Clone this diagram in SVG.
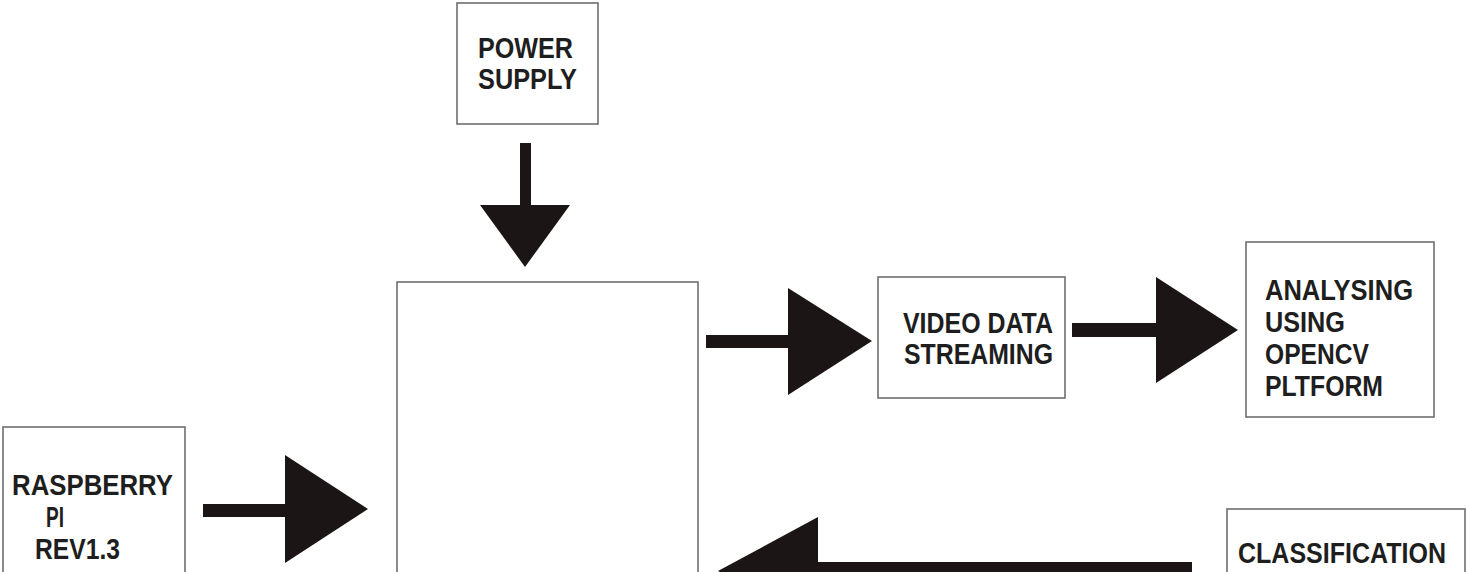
<svg xmlns="http://www.w3.org/2000/svg" width="1467" height="572" viewBox="0 0 1467 572">
<style>
.box{fill:#fff;stroke:#6e6e6e;stroke-width:1.6}
.t{font-family:"Liberation Sans",Arial,sans-serif;font-weight:bold;font-size:29px;fill:#1e1e1e}
.a{fill:#1c1515}
</style>
<rect width="1467" height="572" fill="#fff"/>
<g id="power">
<rect class="box" x="457" y="3" width="141" height="121"/>
<text class="t" x="478" y="58" textLength="95" lengthAdjust="spacingAndGlyphs">POWER</text>
<text class="t" x="478" y="89" textLength="99" lengthAdjust="spacingAndGlyphs">SUPPLY</text>
</g>
<g id="main">
<rect class="box" x="397" y="282" width="301" height="300"/>
</g>
<g id="video">
<rect class="box" x="878" y="277" width="187" height="121"/>
<text class="t" x="903" y="333" textLength="150" lengthAdjust="spacingAndGlyphs">VIDEO DATA</text>
<text class="t" x="904" y="364" textLength="149" lengthAdjust="spacingAndGlyphs">STREAMING</text>
</g>
<g id="analysing">
<rect class="box" x="1246" y="242" width="188" height="175"/>
<text class="t" x="1265" y="300" textLength="148" lengthAdjust="spacingAndGlyphs">ANALYSING</text>
<text class="t" x="1265" y="332" textLength="80" lengthAdjust="spacingAndGlyphs">USING</text>
<text class="t" x="1265" y="364" textLength="104" lengthAdjust="spacingAndGlyphs">OPENCV</text>
<text class="t" x="1265" y="396" textLength="118" lengthAdjust="spacingAndGlyphs">PLTFORM</text>
</g>
<g id="raspberry">
<rect class="box" x="3" y="427" width="182" height="160"/>
<text class="t" x="12" y="495" textLength="161" lengthAdjust="spacingAndGlyphs">RASPBERRY</text>
<text class="t" x="46" y="527" textLength="18" lengthAdjust="spacingAndGlyphs">PI</text>
<text class="t" x="35" y="559" textLength="85" lengthAdjust="spacingAndGlyphs">REV1.3</text>
</g>
<g id="classification">
<rect class="box" x="1227" y="509" width="238" height="80"/>
<text class="t" x="1238" y="563" textLength="208" lengthAdjust="spacingAndGlyphs">CLASSIFICATION</text>
</g>
<g id="connectors">
<rect class="a" x="520" y="143" width="11" height="64"/>
<polygon class="a" points="480,205 570,205 525,267"/>
<rect class="a" x="706" y="335" width="84" height="13"/>
<polygon class="a" points="788,288 788,395 872,341"/>
<rect class="a" x="1072" y="323" width="88" height="14"/>
<polygon class="a" points="1156,277 1156,383 1238,330"/>
<rect class="a" x="203" y="504" width="86" height="13"/>
<polygon class="a" points="285,455 285,563 368,509"/>
<rect class="a" x="815" y="562" width="377" height="16"/>
<polygon class="a" points="818,517 818,625 718,571"/>
</g>
</svg>
